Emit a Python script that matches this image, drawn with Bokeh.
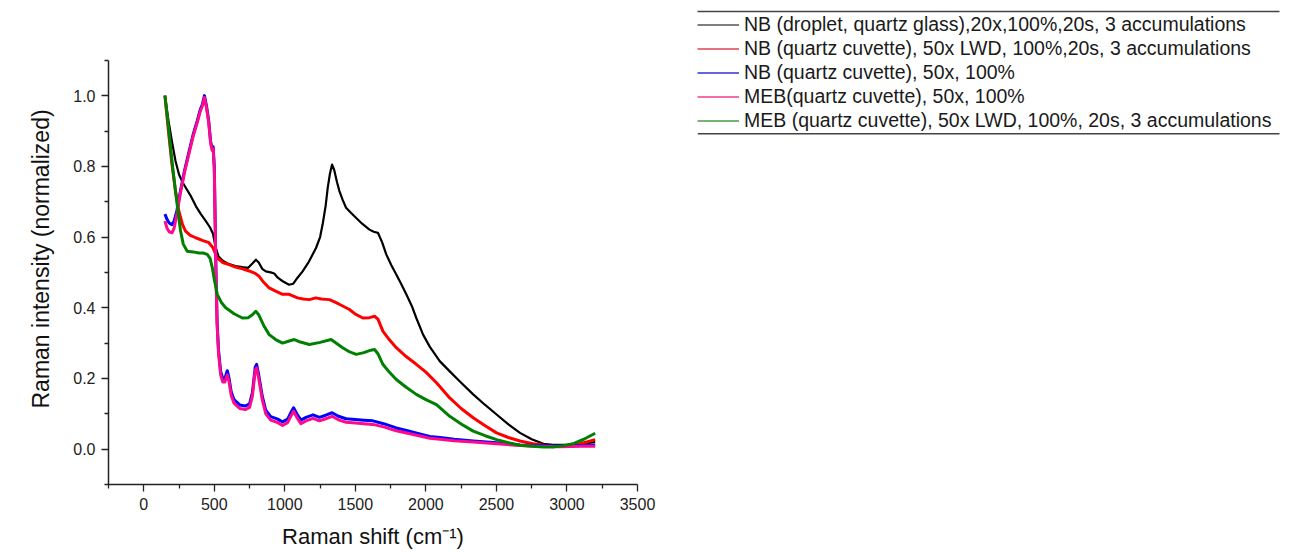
from bokeh.plotting import figure
from bokeh.layouts import row
from bokeh.models import (Range1d, FixedTicker, Legend, LegendItem, BoxAnnotation,
                          PrintfTickFormatter, Title)
from bokeh.embed import file_html
from bokeh.resources import INLINE

# ---------------- data ----------------
nb_droplet_x = [150, 175, 200, 225, 250, 275, 300, 335, 370, 405, 440, 470, 490, 510, 530, 560, 600,
                650, 700, 740, 770, 795, 815, 840, 865, 900, 925, 950, 985, 1030, 1060, 1090, 1126,
                1170, 1221, 1250, 1268, 1290, 1304, 1320, 1335, 1350, 1370, 1387, 1410, 1434, 1470,
                1506, 1550, 1600, 1630, 1660, 1690, 1719, 1755, 1790, 1825, 1861, 1900, 1932, 1980,
                2027, 2098, 2169, 2250, 2335, 2420, 2501, 2585, 2667, 2750, 2833, 2900, 2975, 3050,
                3120, 3200]
nb_droplet_y = [1.0, 0.93, 0.87, 0.815, 0.777, 0.755, 0.738, 0.715, 0.687, 0.665, 0.645, 0.627, 0.61,
                0.57, 0.545, 0.533, 0.524, 0.518, 0.515, 0.513, 0.525, 0.536, 0.528, 0.51, 0.503, 0.5,
                0.497, 0.485, 0.475, 0.465, 0.468, 0.485, 0.503, 0.53, 0.569, 0.6, 0.636, 0.69, 0.739,
                0.78, 0.805, 0.79, 0.755, 0.73, 0.705, 0.683, 0.668, 0.654, 0.637, 0.621, 0.615, 0.612,
                0.585, 0.551, 0.52, 0.494, 0.467, 0.438, 0.405, 0.371, 0.324, 0.29, 0.249, 0.22, 0.188,
                0.155, 0.125, 0.098, 0.07, 0.046, 0.028, 0.015, 0.012, 0.012, 0.012, 0.016, 0.02]

nb_lwd_x = [150, 175, 200, 225, 249, 275, 296, 330, 368, 420, 462, 490, 521, 560, 605, 650, 700, 747,
            790, 818, 850, 889, 935, 984, 1031, 1090, 1130, 1174, 1220, 1260, 1316, 1360, 1410, 1458,
            1500, 1553, 1600, 1636, 1660, 1695, 1740, 1790, 1860, 1932, 2000, 2075, 2169, 2250, 2335,
            2420, 2501, 2585, 2667, 2750, 2833, 2900, 3000, 3100, 3200]
nb_lwd_y = [1.0, 0.9, 0.805, 0.73, 0.673, 0.635, 0.617, 0.605, 0.598, 0.59, 0.584, 0.57, 0.541, 0.528,
            0.522, 0.515, 0.51, 0.504, 0.497, 0.489, 0.472, 0.456, 0.447, 0.438, 0.438, 0.428, 0.425,
            0.423, 0.428, 0.425, 0.423, 0.415, 0.405, 0.395, 0.382, 0.371, 0.372, 0.376, 0.368, 0.334,
            0.31, 0.287, 0.262, 0.24, 0.218, 0.188, 0.145, 0.115, 0.089, 0.066, 0.046, 0.033, 0.023,
            0.016, 0.011, 0.008, 0.009, 0.016, 0.027]

nb_50x_x = [150, 165, 180, 200, 215, 235, 260, 290, 320, 350, 380, 400, 415, 430, 445, 460, 474, 485,
            492, 500, 506, 512, 520, 530, 545, 560, 575, 592, 605, 620, 640, 680, 720, 750, 770, 790,
            800, 815, 840, 865, 900, 950, 984, 1020, 1045, 1062, 1085, 1114, 1150, 1200, 1245, 1290,
            1335, 1380, 1434, 1500, 1560, 1624, 1700, 1790, 1870, 1950, 2027, 2100, 2200, 2335, 2500,
            2667, 2800, 2950, 3100, 3200]
nb_50x_y = [0.665, 0.65, 0.64, 0.635, 0.645, 0.675, 0.73, 0.79, 0.84, 0.89, 0.93, 0.96, 0.975, 1.0,
            0.97, 0.93, 0.87, 0.85, 0.855, 0.8, 0.65, 0.5, 0.36, 0.28, 0.22, 0.2, 0.2, 0.222, 0.2, 0.162,
            0.14, 0.125, 0.122, 0.128, 0.16, 0.232, 0.24, 0.21, 0.15, 0.11, 0.092, 0.085, 0.077, 0.085,
            0.105, 0.117, 0.1, 0.082, 0.09, 0.097, 0.09, 0.096, 0.103, 0.093, 0.086, 0.084, 0.082, 0.08,
            0.072, 0.06, 0.052, 0.044, 0.036, 0.033, 0.028, 0.023, 0.018, 0.012, 0.01, 0.009, 0.01,
            0.011]

meb_50x_x = nb_50x_x
meb_50x_y = [0.645, 0.625, 0.615, 0.612, 0.625, 0.665, 0.725, 0.785, 0.835, 0.885, 0.925, 0.955, 0.97,
             0.995, 0.965, 0.925, 0.865, 0.845, 0.85, 0.79, 0.64, 0.49, 0.35, 0.27, 0.21, 0.19, 0.19,
             0.21, 0.19, 0.152, 0.13, 0.115, 0.112, 0.118, 0.15, 0.222, 0.23, 0.2, 0.14, 0.1, 0.082,
             0.075, 0.067, 0.075, 0.095, 0.107, 0.09, 0.072, 0.08, 0.087, 0.08, 0.086, 0.093, 0.083,
             0.076, 0.074, 0.072, 0.07, 0.063, 0.052, 0.045, 0.038, 0.031, 0.028, 0.024, 0.02, 0.015,
             0.01, 0.008, 0.007, 0.008, 0.008]

meb_lwd_x = [150, 170, 190, 210, 225, 245, 261, 280, 308, 350, 391, 420, 450, 470, 486, 500, 521, 550,
             581, 640, 699, 740, 770, 794, 815, 850, 889, 935, 984, 1031, 1067, 1110, 1174, 1250, 1328,
             1370, 1410, 1460, 1506, 1560, 1610, 1636, 1660, 1695, 1740, 1790, 1860, 1932, 2000, 2075,
             2169, 2250, 2335, 2420, 2501, 2585, 2667, 2750, 2833, 2900, 2975, 3050, 3120, 3200]
meb_lwd_y = [1.0, 0.93, 0.852, 0.78, 0.73, 0.665, 0.617, 0.58, 0.56, 0.558, 0.555, 0.555, 0.551, 0.54,
             0.513, 0.48, 0.438, 0.415, 0.4, 0.383, 0.371, 0.372, 0.38, 0.39, 0.38, 0.35, 0.324, 0.31,
             0.3, 0.306, 0.31, 0.303, 0.296, 0.302, 0.31, 0.298, 0.287, 0.275, 0.268, 0.273, 0.28,
             0.282, 0.27, 0.24, 0.218, 0.197, 0.175, 0.155, 0.14, 0.126, 0.093, 0.071, 0.051, 0.038,
             0.027, 0.018, 0.011, 0.008, 0.006, 0.006, 0.01, 0.016, 0.028, 0.045]

series_labels = [
    "NB (droplet, quartz glass),20x,100%,20s, 3 accumulations",
    "NB (quartz cuvette), 50x LWD, 100%,20s, 3 accumulations",
    "NB (quartz cuvette), 50x, 100%",
    "MEB(quartz cuvette), 50x, 100%",
    "MEB (quartz cuvette), 50x LWD, 100%, 20s, 3 accumulations",
]
series_colors = ["#000000", "#ff0000", "#0000ff", "#ff0a8c", "#008000"]
legend_colors = ["#555555", "#e0405a", "#3030d0", "#f03c8c", "#4a9a4a"]
series_widths = [2.2, 3.0, 3.0, 3.0, 3.0]
series_x = [nb_droplet_x, nb_lwd_x, nb_50x_x, meb_50x_x, meb_lwd_x]
series_y = [nb_droplet_y, nb_lwd_y, nb_50x_y, meb_50x_y, meb_lwd_y]

x_major = [0, 500, 1000, 1500, 2000, 2500, 3000, 3500]
x_minor = [-250, 250, 750, 1250, 1750, 2250, 2750, 3250]
y_major = [0.0, 0.2, 0.4, 0.6, 0.8, 1.0]
y_minor = [-0.1, 0.1, 0.3, 0.5, 0.7, 0.9, 1.1]

FONT = "Liberation Sans"
TOP = 11       # frame top (px)
BOTTOM = 71    # bottom border (px)
H = 555
FRAME_H = H - BOTTOM - TOP

# ---------------- chart ----------------
p = figure(width=690, height=H, title=None,
           x_range=Range1d(-250, 3500), y_range=Range1d(-0.1, -0.1 + FRAME_H / 353.5),
           output_backend="svg", toolbar_location=None,
           min_border_left=108, min_border_right=53, min_border_top=TOP, min_border_bottom=BOTTOM)
p.outline_line_color = None
p.grid.visible = False

for xs, ys, c, w in zip(series_x, series_y, series_colors, series_widths):
    p.line(xs, ys, line_color=c, line_width=w, line_join="round")

for ax in (p.xaxis[0], p.yaxis[0]):
    ax.axis_line_color = "#222222"
    ax.axis_line_width = 1.5
    ax.major_tick_line_color = "#222222"
    ax.minor_tick_line_color = "#222222"
    ax.major_tick_line_width = 1.3
    ax.minor_tick_line_width = 1.3
    ax.major_tick_in = 0
    ax.major_tick_out = 7
    ax.minor_tick_in = 0
    ax.minor_tick_out = 4
    ax.major_label_text_font = FONT
    ax.major_label_text_font_size = "16px"
    ax.major_label_text_color = "#222222"
    ax.axis_label_text_font = FONT
    ax.axis_label_text_font_size = "22px"
    ax.axis_label_text_font_style = "normal"
    ax.axis_label_text_color = "#111111"
    ax.major_label_standoff = 6

p.xaxis.ticker = FixedTicker(ticks=x_major, minor_ticks=x_minor)
p.yaxis.ticker = FixedTicker(ticks=y_major, minor_ticks=y_minor)
p.yaxis.formatter = PrintfTickFormatter(format="%.1f")
p.xaxis.formatter = PrintfTickFormatter(format="%d")
p.yaxis.bounds = (-0.1, 1.1)
p.xaxis.axis_label = "Raman shift (cm\u207b\u00b9)"
p.xaxis.axis_label_standoff = 11

ytitle = Title(text="Raman intensity (normalized)", align="left", offset=76, standoff=33,
               text_font=FONT, text_font_size="23px", text_font_style="normal",
               text_color="#111111")
p.add_layout(ytitle, "left")

# ---------------- legend panel ----------------
q = figure(width=600, height=H, title=None,
           x_range=Range1d(0, 593), y_range=Range1d(H - BOTTOM, TOP),
           output_backend="svg", toolbar_location=None,
           x_axis_location="above", y_axis_location=None,
           min_border_left=7, min_border_right=0, min_border_top=TOP, min_border_bottom=BOTTOM)
q.outline_line_color = None
q.grid.visible = False
qa = q.xaxis[0]
qa.ticker = FixedTicker(ticks=[], minor_ticks=[])
qa.major_tick_in = 0
qa.major_tick_out = 0
qa.minor_tick_in = 0
qa.minor_tick_out = 0
qa.major_label_text_font_size = "0px"
qa.major_label_standoff = 0
qa.axis_line_color = "#444444"
qa.axis_line_width = 1.5
qa.bounds = (0, 582)

items = []
for lab, c in zip(series_labels, legend_colors):
    r = q.line(x=[float("nan")], y=[float("nan")], line_color=c, line_width=1.3)
    items.append(LegendItem(label=lab, renderers=[r]))

leg = Legend(items=items, location=(0, FRAME_H - 121), orientation="vertical",
             padding=0, margin=0, spacing=1, glyph_width=42, glyph_height=23,
             label_height=23, label_standoff=5,
             label_text_font=FONT, label_text_font_size="19.5px", label_text_color="#1a1a1a",
             border_line_alpha=0, background_fill_alpha=0)
q.add_layout(leg)

q.add_layout(BoxAnnotation(left=0, right=582, top=132.5, bottom=134,
                           fill_color="#444444", fill_alpha=1, line_alpha=0))

layout = row(p, q, spacing=0)
open("out.html", "w").write(file_html(layout, INLINE))
